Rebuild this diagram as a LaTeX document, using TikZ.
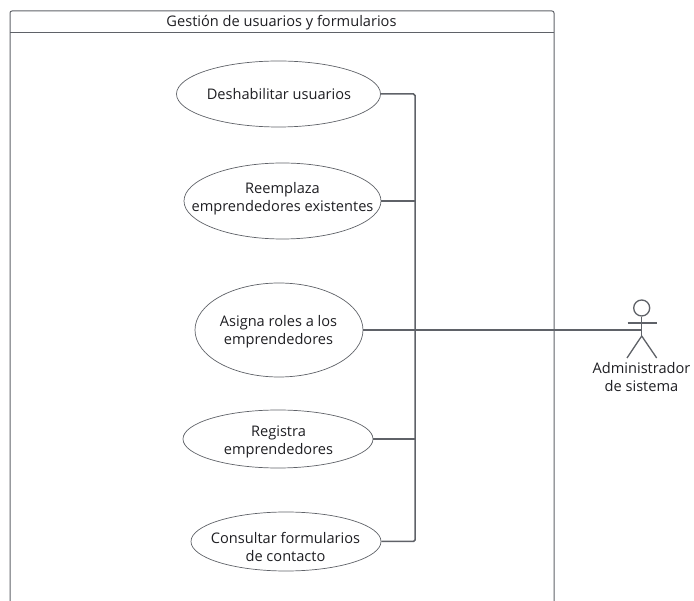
\documentclass[tikz,border=0pt]{standalone}
\usepackage{fontspec}
\setmainfont{Open Sans}
\usetikzlibrary{shapes.geometric}

\definecolor{linegray}{HTML}{5F6268}
\definecolor{textgray}{HTML}{1E1E22}

\begin{document}
\begin{tikzpicture}
[
x=1pt, y=-1pt,
usecase/.style={
% The shape:
ellipse,
inner sep=0pt,
% The border:
draw=linegray, line width=0.7pt,
},
label/.style={
% The text:
align=center,
inner sep=0pt,
text=textgray,
font=\fontsize{14.6}{18}\selectfont,
},
frameline/.style={
% The border:
draw=linegray, line width=1pt,
},
link/.style={
% The border:
draw=linegray, line width=1.5pt,
rounded corners=1.5pt,
},
figure/.style={
% The border:
draw=linegray, line width=1.3pt,
},
]
    \useasboundingbox (0, 0) rectangle (694, 601);

    % system frame, open at the bottom
    \coordinate (framebl) at (10, 601);
    \coordinate (frametr) at (554, 11);
    \draw[frameline, rounded corners=2pt] (framebl) |- (frametr) -- (554, 601);
    \draw[frameline] (10, 33) -- (554, 33);
    \node[label] (title) at (281.5, 23) {Gestión de usuarios y formularios};

    \node[usecase, minimum width=204, minimum height=66] (disable) at (278.5, 94) {};
    \node[usecase, minimum width=197, minimum height=76] (replace) at (282.5, 201) {};
    \node[usecase, minimum width=168, minimum height=94] (roles) at (279, 330) {};
    \node[usecase, minimum width=190, minimum height=58] (register) at (278, 439) {};
    \node[usecase, minimum width=190, minimum height=59] (consult) at (286, 541.5) {};

    \node[label] (disabletext) at (279, 94) {Deshabilitar usuarios};
    \node[label] (replacetext) at (282.5, 199) {Reemplaza\\emprendedores existentes};
    \node[label] (rolestext) at (278.5, 331.5) {Asigna roles a los\\emprendedores};
    \node[label] (registertext) at (278.5, 442) {Registra\\emprendedores};
    \node[label] (consulttext) at (285.5, 547) {Consultar formularios\\de contacto};

    % actor
    \node[circle, figure, minimum size=16, inner sep=0pt] (head) at (641.7, 308) {};
    \coordinate (hip) at (641.7, 336);
    \coordinate (shoulder) at (641.7, 330);
    \coordinate (armleft) at (627.5, 323);
    \coordinate (armright) at (656.5, 323);
    \coordinate (footleft) at (627, 358);
    \coordinate (footright) at (656.7, 358);
    \draw[figure] (head.south) -- (hip);
    \draw[figure] (armleft) -- (armright);
    \draw[figure] (footleft) -- (hip) -- (footright);
    \node[label] (actor) at (641.5, 377) {Administrador\\de sistema};

    % links
    \coordinate (trunk) at (415, 541.5);
    \draw[link] (disable.east) -| (trunk) -- (consult.east);
    \draw[link] (replace.east) -- (replace.east -| trunk);
    \draw[link] (register.east) -- (register.east -| trunk);
    \draw[link] (roles.east) -- (shoulder);
\end{tikzpicture}
\end{document}
